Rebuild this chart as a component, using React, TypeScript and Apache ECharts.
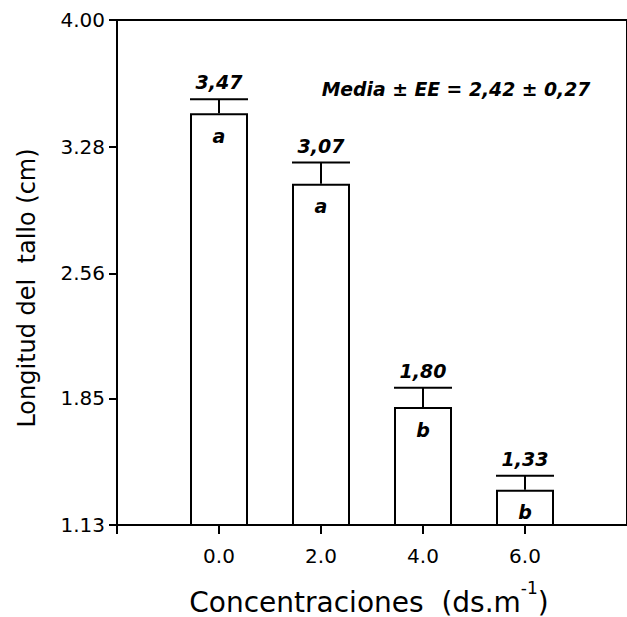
import React, { useEffect, useRef } from 'react';
import * as echarts from 'echarts';

const concentrations = [0, 2, 4, 6];
const meanLength = [3.47, 3.07, 1.8, 1.33];
const stdError = [0.08, 0.12, 0.11, 0.08];
const groupLetters = ['a', 'a', 'b', 'b'];
const yTickValues = [1.13, 1.85, 2.56, 3.28, 4.0];
const xTickValues = [-2, 0, 2, 4, 6];
const xLabelValues = [0, 2, 4, 6];
const summaryText = 'Media ± EE = 2,42 ± 0,27';
const yAxisTitle = 'Longitud del  tallo (cm)';
const xAxisTitleMain = 'Concentraciones  (ds.m';
const xAxisTitleSup = '-1';
const xAxisTitleEnd = ')';

const FONT = 'DejaVu Sans';

function measure(text: string, size: number): number {
  const ctx = document.createElement('canvas').getContext('2d');
  if (!ctx) return text.length * size * 0.6;
  ctx.font = `${size}px "${FONT}"`;
  return ctx.measureText(text).width;
}

export default function App() {
  const ref = useRef<HTMLDivElement>(null);
  useEffect(() => {
    const chart = echarts.init(ref.current!, null, { renderer: 'svg' });
    const barData = concentrations.map((c, i) => [c, meanLength[i]]);
    const errData = concentrations.map((c, i) => [c, meanLength[i], stdError[i]]);
    const axisLineStyle = { color: '#000', width: 2 };

    const mainSize = 28;
    const supSize = 17;
    const wMain = measure(xAxisTitleMain, mainSize);
    const wSup = measure(xAxisTitleSup, supSize);
    const wEnd = measure(xAxisTitleEnd, mainSize);
    const total = wMain + wSup + wEnd;
    const x0 = 369 - total / 2;

    const titleStyle = (size: number) => ({
      fill: '#000',
      fontFamily: FONT,
      fontSize: size,
      textAlign: 'left',
      textVerticalAlign: 'middle',
      align: 'left',
      verticalAlign: 'middle',
    });

    chart.setOption({
      animation: false,
      backgroundColor: '#fff',
      grid: {
        left: 117,
        right: -10,
        top: 20,
        bottom: 92,
        show: true,
        borderColor: '#000',
        borderWidth: 2,
        backgroundColor: 'transparent',
      },
      xAxis: {
        type: 'value',
        min: -2,
        max: 8,
        axisLine: { show: true, onZero: false, lineStyle: axisLineStyle },
        axisTick: { show: true, length: 9, lineStyle: axisLineStyle, customValues: xTickValues },
        axisLabel: {
          customValues: xLabelValues,
          formatter: (v: number) => v.toFixed(1),
          margin: 21,
          color: '#000',
          fontFamily: FONT,
          fontSize: 20,
        },
        splitLine: { show: false },
      },
      yAxis: {
        type: 'value',
        min: 1.13,
        max: 4.0,
        axisLine: { show: true, onZero: false, lineStyle: axisLineStyle },
        axisTick: { show: true, length: 8, lineStyle: axisLineStyle, customValues: yTickValues },
        axisLabel: {
          customValues: yTickValues,
          formatter: (v: number) => v.toFixed(2),
          margin: 12,
          color: '#000',
          fontFamily: FONT,
          fontSize: 20,
        },
        splitLine: { show: false },
      },
      series: [
        {
          type: 'bar',
          data: barData,
          barWidth: 58,
          itemStyle: { color: '#fff', borderColor: '#000', borderWidth: 2 },
          label: {
            show: true,
            position: 'insideTop',
            distance: 13,
            formatter: (p: any) => groupLetters[p.dataIndex],
            color: '#000',
            fontFamily: FONT,
            fontSize: 19,
            fontWeight: 'bold',
            fontStyle: 'italic',
          },
        },
        {
          type: 'custom',
          data: errData,
          z: 5,
          renderItem: (params: any, api: any) => {
            const x = api.value(0);
            const y = api.value(1);
            const e = api.value(2);
            const top = api.coord([x, y + e]);
            const base = api.coord([x, y]);
            const half = 29;
            const ls = { stroke: '#000', lineWidth: 2 };
            return {
              type: 'group',
              children: [
                { type: 'line', shape: { x1: base[0], y1: base[1], x2: top[0], y2: top[1] }, style: ls },
                { type: 'line', shape: { x1: top[0] - half, y1: top[1], x2: top[0] + half, y2: top[1] }, style: ls },
                {
                  type: 'text',
                  x: top[0],
                  y: top[1] - 17,
                  style: {
                    text: y.toFixed(2).replace('.', ','),
                    fill: '#000',
                    fontFamily: FONT,
                    fontSize: 19,
                    fontWeight: 'bold',
                    fontStyle: 'italic',
                    textAlign: 'center',
                    textVerticalAlign: 'middle',
                    align: 'center',
                    verticalAlign: 'middle',
                  },
                },
              ],
            };
          },
        },
      ],
      graphic: [
        {
          type: 'text',
          x: 27,
          y: 288,
          rotation: Math.PI / 2,
          style: {
            text: yAxisTitle,
            fill: '#000',
            fontFamily: FONT,
            fontSize: 24,
            textAlign: 'center',
            textVerticalAlign: 'middle',
            align: 'center',
            verticalAlign: 'middle',
          },
        },
        {
          type: 'text',
          x: 456,
          y: 89,
          style: {
            text: summaryText,
            fill: '#000',
            fontFamily: FONT,
            fontSize: 18.8,
            fontWeight: 'bold',
            fontStyle: 'italic',
            textAlign: 'center',
            textVerticalAlign: 'middle',
            align: 'center',
            verticalAlign: 'middle',
          },
        },
        {
          type: 'text',
          x: x0,
          y: 602,
          style: { text: xAxisTitleMain, ...titleStyle(mainSize) },
        },
        {
          type: 'text',
          x: x0 + wMain,
          y: 588,
          style: { text: xAxisTitleSup, ...titleStyle(supSize) },
        },
        {
          type: 'text',
          x: x0 + wMain + wSup,
          y: 602,
          style: { text: xAxisTitleEnd, ...titleStyle(mainSize) },
        },
      ],
    });
    return () => chart.dispose();
  }, []);
  return <div ref={ref} style={{ position: 'fixed', left: 0, top: 0, width: 627, height: 617 }} />;
}
